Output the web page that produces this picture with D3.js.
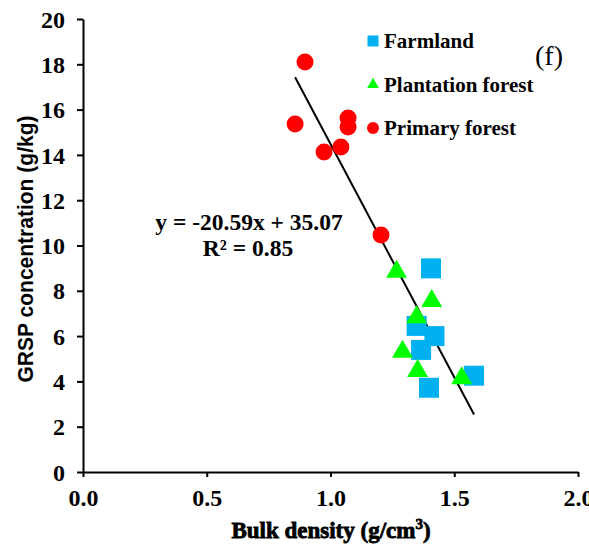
<!DOCTYPE html>
<html>
<head>
<meta charset="utf-8">
<script src="https://cdn.jsdelivr.net/npm/d3@7"></script>
<style>
  body { margin: 0; background: #fff; }
  svg { display: block; }
  .serif { font-family: "Liberation Serif", "Times New Roman", serif; }
</style>
</head>
<body>
<div id="chart"></div>
<script>

// bulk density (x) and GRSP (y) for each land use
let farmlandX = [1.406, 1.348, 1.420, 1.366, 1.398, 1.580];
let farmlandY = [8.99, 6.45, 6.00, 5.39, 3.72, 4.25];
let plantationX = [1.267, 1.409, 1.348, 1.291, 1.352, 1.530];
let plantationY = [8.84, 7.55, 6.83, 5.31, 4.46, 4.14];
let primaryX = [0.897, 0.857, 0.974, 1.042, 1.071, 1.071, 1.204];
let primaryY = [18.10, 15.36, 14.13, 14.35, 15.63, 15.23, 10.46];

let xTicks = [0, 0.5, 1.0, 1.5, 2.0];
let yTicks = [0, 2, 4, 6, 8, 10, 12, 14, 16, 18, 20];
let slope = -20.59, intercept = 35.07;

let svgWidth = 589, svgHeight = 553;
let margin = {top: 19, right: 11, bottom: 81, left: 83};
let width = svgWidth - margin.left - margin.right,
    height = svgHeight - margin.top - margin.bottom;

let x = d3.scaleLinear().domain([0, 2]).range([0, width]);
let y = d3.scaleLinear().domain([0, 20]).range([height, 0]);

let svg = d3.select("#chart").append("svg")
    .attr("width", svgWidth)
    .attr("height", svgHeight);

let g = svg.append("g")
    .attr("transform", "translate(" + margin.left + "," + margin.top + ")");

// axes
let xAxis = g.append("g")
    .attr("transform", "translate(0," + height + ")")
    .call(d3.axisBottom(x).tickValues(xTicks).tickFormat(d3.format(".1f")).tickSize(5).tickSizeOuter(0));
let yAxis = g.append("g")
    .call(d3.axisLeft(y).tickValues(yTicks).tickFormat(d3.format("d")).tickSize(6).tickSizeOuter(0));

[xAxis, yAxis].forEach(function(a) {
    a.attr("font-family", null).attr("font-size", null);
    a.select(".domain").attr("stroke", "#000").attr("stroke-width", 2);
    a.selectAll(".tick line").attr("stroke", "#000").attr("stroke-width", 2);
    a.selectAll(".tick text")
        .attr("class", "serif")
        .attr("fill", "#000")
        .style("font-weight", "700")
        .style("font-size", "24px");
});
xAxis.selectAll(".tick text").attr("y", 34).attr("dy", 0);
yAxis.selectAll(".tick text").attr("x", -18).attr("dy", "0.34em");

// axis titles
svg.append("text")
    .attr("class", "serif")
    .attr("x", 331)
    .attr("y", 538)
    .attr("text-anchor", "middle")
    .style("font-weight", "700")
    .style("font-size", "23px")
    .attr("stroke", "#000")
    .attr("stroke-width", 0.8)
    .html("Bulk density (g/cm<tspan dy='-9' font-size='15px'>3</tspan><tspan dy='9'>)</tspan>");

svg.append("text")
    .attr("transform", "translate(33,249) rotate(-90)")
    .attr("text-anchor", "middle")
    .attr("font-family", "'Liberation Sans', Arial, sans-serif")
    .attr("font-weight", "bold")
    .attr("font-size", "22px")
    .attr("textLength", 267)
    .attr("lengthAdjust", "spacingAndGlyphs")
    .text("GRSP concentration  (g/kg)");

// trendline over the data range
let allX = farmlandX.concat(plantationX, primaryX);
let xr = d3.extent(allX);
g.append("line")
    .attr("x1", x(xr[0]))
    .attr("y1", y(slope * xr[0] + intercept))
    .attr("x2", x(xr[1]))
    .attr("y2", y(slope * xr[1] + intercept))
    .attr("stroke", "#000")
    .attr("stroke-width", 2);

// points
let tri = d3.symbol().type(d3.symbolTriangle);
let sq = d3.symbol().type(d3.symbolSquare);

g.selectAll(".farm")
    .data(d3.range(farmlandX.length))
    .enter().append("path")
    .attr("class", "farm")
    .attr("d", sq.size(400))
    .attr("transform", function(i) { return "translate(" + x(farmlandX[i]) + "," + y(farmlandY[i]) + ")"; })
    .attr("fill", "#00B0F0");

g.selectAll(".plant")
    .data(d3.range(plantationX.length))
    .enter().append("path")
    .attr("class", "plant")
    .attr("d", tri.size(190))
    .attr("transform", function(i) { return "translate(" + x(plantationX[i]) + "," + y(plantationY[i]) + ")"; })
    .attr("fill", "#00FF00");

g.selectAll(".prim")
    .data(d3.range(primaryX.length))
    .enter().append("circle")
    .attr("class", "prim")
    .attr("cx", function(i) { return x(primaryX[i]); })
    .attr("cy", function(i) { return y(primaryY[i]); })
    .attr("r", 8.5)
    .attr("fill", "#FF0000");

// legend
let legend = [
    {name: "Farmland", color: "#00B0F0", shape: "sq"},
    {name: "Plantation forest", color: "#00FF00", shape: "tri"},
    {name: "Primary forest", color: "#FF0000", shape: "circ"}
];
let leg = svg.selectAll(".leg")
    .data(legend)
    .enter().append("g")
    .attr("class", "leg")
    .attr("transform", function(d, i) { return "translate(373," + (41 + i * 43.5) + ")"; });

leg.each(function(d) {
    let s = d3.select(this);
    if (d.shape == "circ") {
        s.append("circle").attr("r", 6).attr("fill", d.color);
    } else {
        s.append("path")
            .attr("d", d.shape == "sq" ? sq.size(121)() : tri.size(60)())
            .attr("fill", d.color);
    }
});
leg.append("text")
    .attr("class", "serif")
    .attr("x", 11)
    .attr("y", 7)
    .style("font-weight", "700")
    .style("font-size", "21px")
    .text(function(d) { return d.name; });

svg.append("text")
    .attr("class", "serif")
    .attr("x", 535)
    .attr("y", 65)
    .style("font-size", "28px")
    .text("(f)");

// equation
svg.append("text")
    .attr("class", "serif")
    .attr("x", 249)
    .attr("y", 230)
    .attr("text-anchor", "middle")
    .style("font-weight", "700")
    .style("font-size", "23.5px")
    .text("y = -20.59x + 35.07");
svg.append("text")
    .attr("class", "serif")
    .attr("x", 248)
    .attr("y", 256)
    .attr("text-anchor", "middle")
    .style("font-weight", "700")
    .style("font-size", "23.5px")
    .text("R² = 0.85");

</script>
</body>
</html>
